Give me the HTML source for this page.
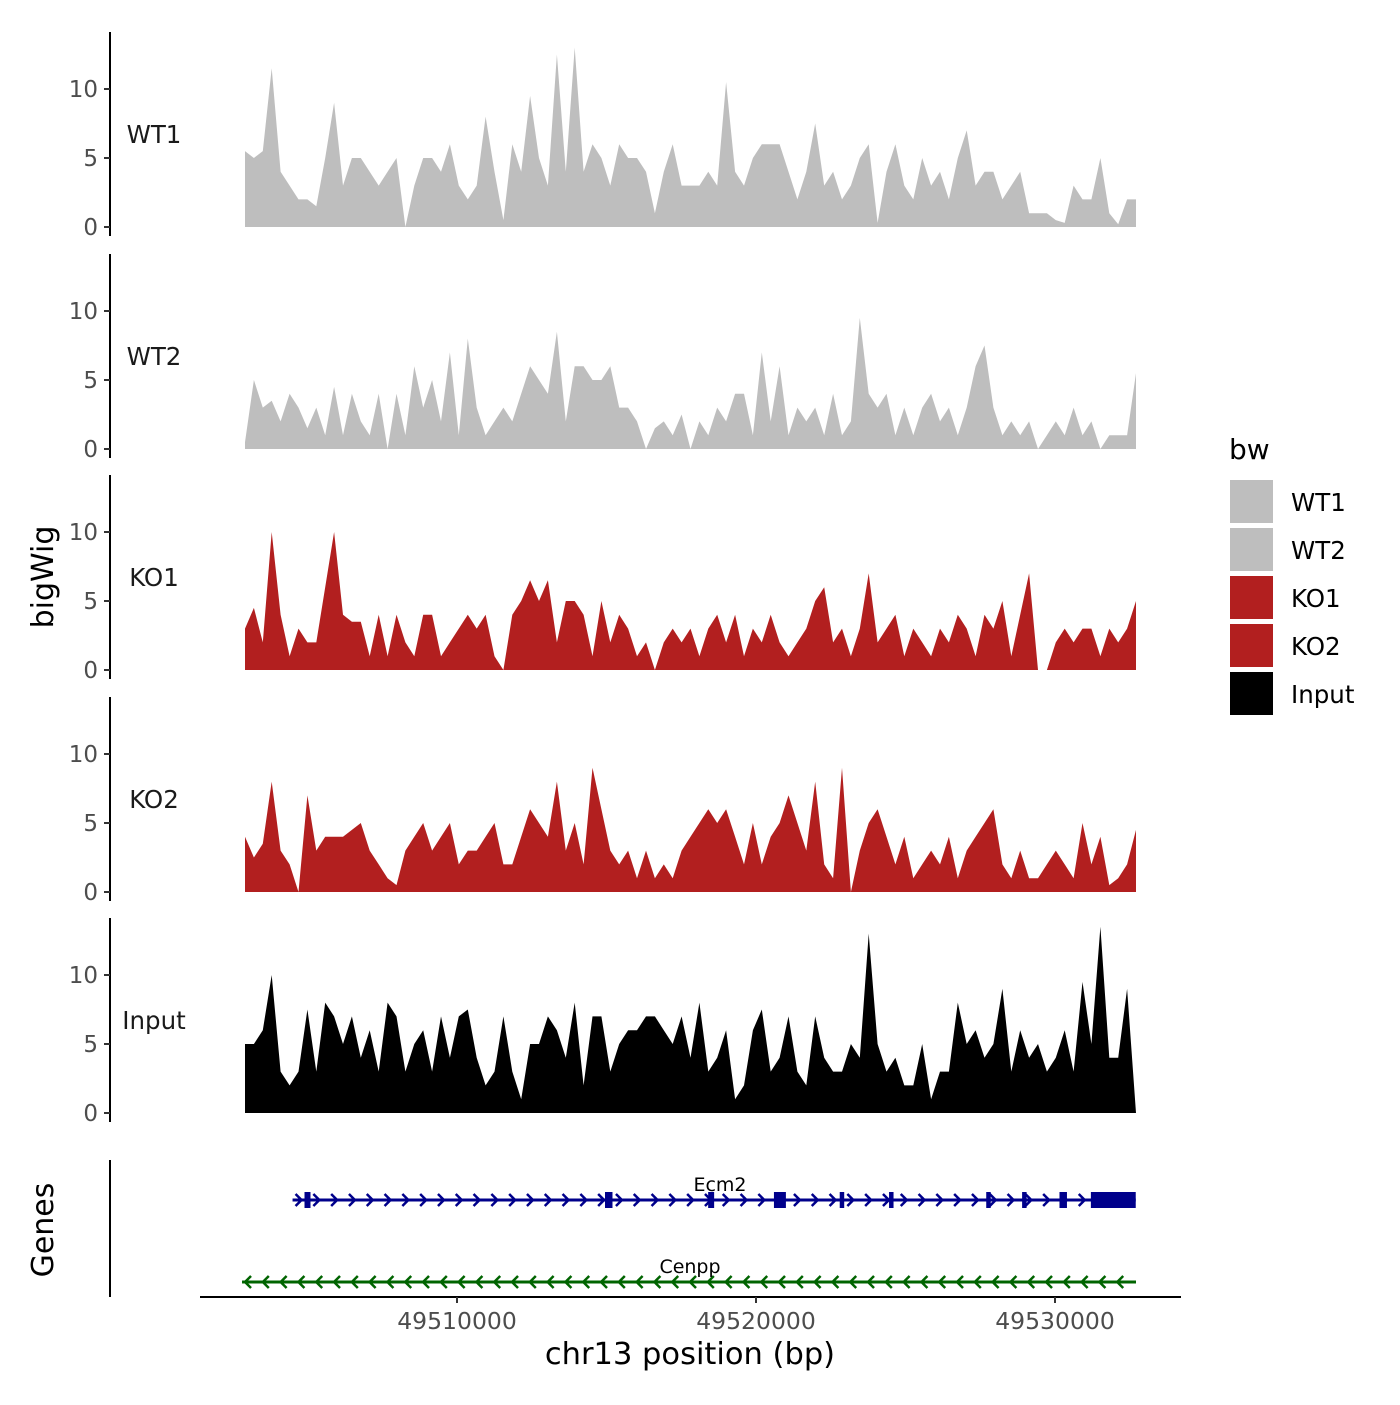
<!DOCTYPE html>
<html><head><meta charset="utf-8"><style>
body{margin:0;background:#fff}
svg text{font-family:"DejaVu Sans","Liberation Sans",sans-serif}
</style></head><body>
<svg id="c" width="1400" height="1400" xmlns="http://www.w3.org/2000/svg"></svg>
<script>
const tracks=["WT1","WT2","KO1","KO2","Input"];
const colors=["#bebebe","#bebebe","#b21f1f","#b21f1f","#000000"];
const yTicks=[0,5,10];
const xTicks=[49510000,49520000,49530000];
const xTickLabels=["49510000","49520000","49530000"];
const startPos=49502910, endPos=49532709;
const wt1=[5.5,5,5.5,11.5,4,3,2,2,1.5,5,9,3,5,5,4,3,4,5,0,3,5,5,4,6,3,2,3,8,4,0.5,6,4,9.5,5,3,12.5,4,13,4,6,5,3,6,5,5,4,1,4,6,3,3,3,4,3,10.5,4,3,5,6,6,6,4,2,4,7.5,3,4,2,3,5,6,0.3,4,6,3,2,5,3,4,2,5,7,3,4,4,2,3,4,1,1,1,0.5,0.3,3,2,2,5,1,0.2,2,2];
const wt2=[0.5,5,3,3.5,2,4,3,1.5,3,1,4.5,1,4,2,1,4,0,4,1,6,3,5,2,7,1,8,3,1,2,3,2,4,6,5,4,8.5,2,6,6,5,5,6,3,3,2,0,1.5,2,1,2.5,0,2,1,3,2,4,4,1,7,2,6,1,3,2,3,1,4,1,2,9.5,4,3,4,1,3,1,3,4,2,3,1,3,6,7.5,3,1,2,1,2,0,1,2,1,3,1,2,0,1,1,1,5.5];
const ko1=[3,4.5,2,10,4,1,3,2,2,6,10,4,3.5,3.5,1,4,1,4,2,1,4,4,1,2,3,4,3,4,1,0,4,5,6.5,5,6.5,2,5,5,4,1,5,2,4,3,1,2,0,2,3,2,3,1,3,4,2,4,1,3,2,4,2,1,2,3,5,6,2,3,1,3,7,2,3,4,1,3,2,1,3,2,4,3,1,4,3,5,1,4,7,0,0,2,3,2,3,3,1,3,2,3,5];
const ko2=[4,2.5,3.5,8,3,2,0,7,3,4,4,4,4.5,5,3,2,1,0.5,3,4,5,3,4,5,2,3,3,4,5,2,2,4,6,5,4,8,3,5,2,9,6,3,2,3,1,3,1,2,1,3,4,5,6,5,6,4,2,5,2,4,5,7,5,3,8,2,1,9,0,3,5,6,4,2,4,1,2,3,2,4,1,3,4,5,6,2,1,3,1,1,2,3,2,1,5,2,4,0.5,1,2,4.5];
const inp=[5,5,6,10,3,2,3,7.5,3,8,7,5,7,4,6,3,8,7,3,5,6,3,7,4,7,7.5,4,2,3,7,3,1,5,5,7,6,4,8,2,7,7,3,5,6,6,7,7,6,5,7,4,8,3,4,6,1,2,6,7.5,3,4,7,3,2,7,4,3,3,5,4,13,5,3,4,2,2,5,1,3,3,8,5,6,4,5,9,3,6,4,5,3,4,6,3,9.5,5,13.5,4,4,9,0];
const series=[wt1,wt2,ko1,ko2,inp];
const ecm2Exons=[[49504900,49505100],[49514950,49515200],[49518400,49518600],[49520600,49521000],[49522800,49522950],[49524450,49524600],[49527700,49527850],[49528900,49529050],[49530150,49530400],[49531200,49532700]];
const NS="http://www.w3.org/2000/svg";
const svg=document.getElementById('c');
function el(t,a,p){const e=document.createElementNS(NS,t);for(const k in a)e.setAttribute(k,a[k]);(p||svg).appendChild(e);return e;}
const xPx=p=>457+(p-49510000)*299/10000;
const zeros=[227,449,670,892,1113];
const yPx=(i,v)=>zeros[i]-v*13.8;
tracks.forEach((name,i)=>{
  const g=el('g',{});
  
  
  const d=series[i];const n=d.length;
  let pts=xPx(startPos)+','+zeros[i]+' ';
  d.forEach((v,j)=>{const p=startPos+(endPos-startPos)*j/(n-1);pts+=xPx(p).toFixed(1)+','+yPx(i,v).toFixed(1)+' ';});
  pts+=xPx(endPos)+','+zeros[i];
  const a=el('polygon',{points:pts,fill:colors[i]},g);
  
  
  const ax=el('line',{x1:110,x2:110,y1:zeros[i]-195,y2:zeros[i]+9,stroke:'#000','stroke-width':2},g);
  
  
  yTicks.forEach(t=>{
    const y=yPx(i,t);
    el('line',{x1:104,x2:110,y1:y,y2:y,stroke:'#333','stroke-width':2},g);
    const tx=el('text',{x:98,y:y+8,'text-anchor':'end','font-size':23,fill:'#4d4d4d'},g);tx.textContent=t;
    
    
  });
  const lb=el('text',{x:154,y:zeros[i]-84,'text-anchor':'middle','font-size':24.5,fill:'#1a1a1a'},g);lb.textContent=name;
  
  
});
const yt=el('text',{x:0,y:0,transform:'translate(53,577) rotate(-90)','text-anchor':'middle','font-size':30});yt.textContent='bigWig';


const gt=el('text',{x:0,y:0,transform:'translate(53,1230) rotate(-90)','text-anchor':'middle','font-size':30});gt.textContent='Genes';


el('line',{x1:110,x2:110,y1:1160,y2:1297,stroke:'#000','stroke-width':2});
function gene(name,s,e,y,col,dir,lx){
  const g=el('g',{});
  
  
  const x1=xPx(s),x2=xPx(e);
  el('line',{x1:x1,x2:x2,y1:y,y2:y,stroke:col,'stroke-width':3},g);
  for(let x=x1+6;x<x2-4;x+=17.8){
    const p=dir>0?`M${x-3},${y-6}L${x+3},${y}L${x-3},${y+6}`:`M${x+3},${y-6}L${x-3},${y}L${x+3},${y+6}`;
    el('path',{d:p,stroke:col,'stroke-width':2.5,fill:'none'},g);
  }
  const t=el('text',{x:lx,y:y-9,'text-anchor':'middle','font-size':19},g);t.textContent=name;
  
  
  return g;
}
const ge=gene('Ecm2',49504500,49532700,1200,'#00008b',1,720);
ecm2Exons.forEach(ex=>{const a=xPx(ex[0]),b=xPx(ex[1]);const r=el('rect',{x:a,y:1192,width:Math.max(4,b-a),height:16,fill:'#00008b'},ge);

});
gene('Cenpp',startPos-100,endPos,1282,'#006400',-1,690);
const xa=el('line',{x1:200,x2:1181,y1:1297,y2:1297,stroke:'#000','stroke-width':2});


xTicks.forEach((t,k)=>{const x=xPx(t);el('line',{x1:x,x2:x,y1:1297,y2:1303,stroke:'#333','stroke-width':2});
const tx=el('text',{x:x,y:1329,'text-anchor':'middle','font-size':23.5,fill:'#4d4d4d'});tx.textContent=xTickLabels[k];

});
const xt=el('text',{x:690,y:1364,'text-anchor':'middle','font-size':30.5});xt.textContent='chr13 position (bp)';


const lg=el('g',{});


const lt=el('text',{x:1229,y:459,'font-size':28},lg);lt.textContent='bw';
tracks.forEach((n,i)=>{const y=480+i*48;
const r=el('rect',{x:1230,y:y,width:43,height:43,fill:colors[i]},lg);


const t=el('text',{x:1291,y:y+31,'font-size':24.5},lg);t.textContent=n;

});
</script>
</body></html>
